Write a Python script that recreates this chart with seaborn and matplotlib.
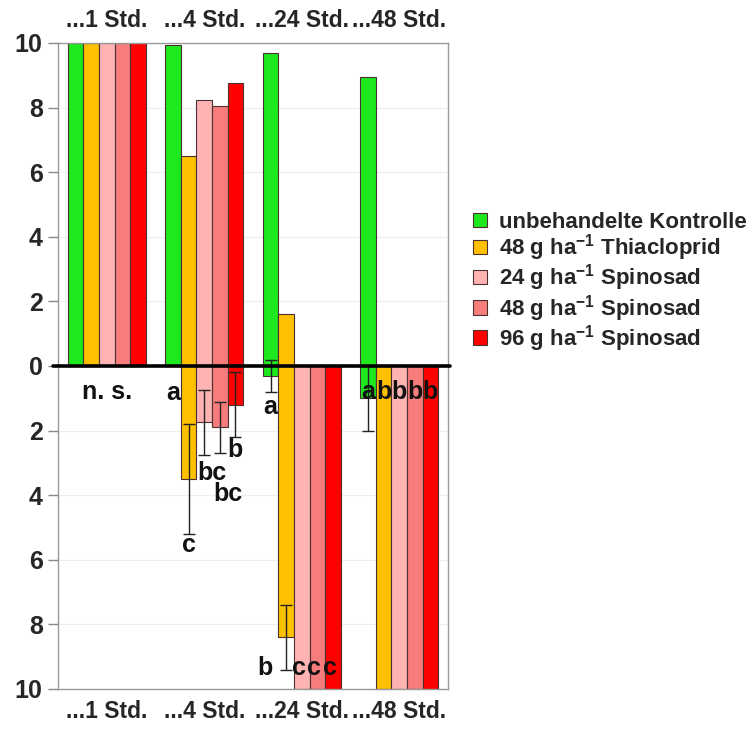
import pandas as pd
import seaborn as sns
import matplotlib
matplotlib.use('Agg')
import matplotlib.pyplot as plt
from matplotlib.patches import Patch

# time points and treatments
times = ['...1 Std.', '...4 Std.', '...24 Std.', '...48 Std.']
treatments = ['unbehandelte Kontrolle',
              '48 g ha$^{-1}$ Thiacloprid',
              '24 g ha$^{-1}$ Spinosad',
              '48 g ha$^{-1}$ Spinosad',
              '96 g ha$^{-1}$ Spinosad']
colors = ['#1ee81e', '#ffc000', '#ffb3b3', '#f77c7c', '#ff0000']

# upper part (per treatment, over the time points)
upper = {
    treatments[0]: [10, 9.95, 9.7, 8.95],
    treatments[1]: [10, 6.5, 1.6, 0],
    treatments[2]: [10, 8.25, 0, 0],
    treatments[3]: [10, 8.05, 0, 0],
    treatments[4]: [10, 8.75, 0, 0],
}
# lower part with standard deviations
lower = {
    treatments[0]: [0, 0, 0.3, 1.0],
    treatments[1]: [0, 3.5, 8.4, 10],
    treatments[2]: [0, 1.75, 10, 10],
    treatments[3]: [0, 1.9, 10, 10],
    treatments[4]: [0, 1.2, 10, 10],
}
lower_sd = {
    treatments[0]: [0, 0, 0.5, 1.0],
    treatments[1]: [0, 1.7, 1.0, 0],
    treatments[2]: [0, 1.0, 0, 0],
    treatments[3]: [0, 0.8, 0, 0],
    treatments[4]: [0, 1.0, 0, 0],
}

# significance letters: (time index, treatment index, text, dx, y)
letters = [
    (0, 2, 'n. s.', 0.0, -0.8),
    (1, 0, 'a', 0.0, -0.85),
    (1, 1, 'c', 0.0, -5.55),
    (1, 2, 'bc', 0.08, -3.3),
    (1, 3, 'bc', 0.08, -3.95),
    (1, 4, 'b', 0.0, -2.6),
    (2, 0, 'a', 0.0, -1.27),
    (2, 1, 'b', -0.22, -9.35),
    (2, 2, 'c', -0.03, -9.35),
    (2, 3, 'c', -0.03, -9.35),
    (2, 4, 'c', -0.03, -9.35),
    (3, 0, 'a', 0.0, -0.8),
    (3, 1, 'b', 0.0, -0.8),
    (3, 2, 'b', 0.0, -0.8),
    (3, 3, 'b', 0.0, -0.8),
    (3, 4, 'b', 0.0, -0.8),
]

rows = []
for t in treatments:
    for i, tm in enumerate(times):
        rows.append({'time': tm, 'treatment': t, 'up': upper[t][i],
                     'down': -lower[t][i], 'sd': lower_sd[t][i]})
df = pd.DataFrame(rows)

sns.set_style('white')
plt.rcParams['font.family'] = ['Liberation Sans', 'DejaVu Sans']
plt.rcParams['font.weight'] = 'bold'
plt.rcParams['mathtext.fontset'] = 'custom'
plt.rcParams['mathtext.bf'] = 'Liberation Sans:bold'
plt.rcParams['mathtext.rm'] = 'Liberation Sans:bold'
plt.rcParams['mathtext.default'] = 'bf'

fig = plt.figure(figsize=(7.49, 7.31), dpi=100)
ax = fig.add_axes([0.0774, 0.0575, 0.5207, 0.8837])

pal = dict(zip(treatments, colors))
sns.barplot(data=df, x='time', y='up', hue='treatment', palette=pal,
            hue_order=treatments, order=times, errorbar=None, width=0.8,
            edgecolor='#4a3030', linewidth=0.8, saturation=1, legend=False,
            ax=ax, zorder=2)
sns.barplot(data=df, x='time', y='down', hue='treatment', palette=pal,
            hue_order=treatments, order=times, errorbar=None, width=0.8,
            edgecolor='#4a3030', linewidth=0.8, saturation=1, legend=False,
            ax=ax, zorder=2)

# bar centres from the lower bars
centres = {}
for k, cont in enumerate(ax.containers[5:10]):
    for i, bar in enumerate(cont):
        centres[(i, k)] = bar.get_x() + bar.get_width() / 2

for k, t in enumerate(treatments):
    for i in range(len(times)):
        if lower_sd[t][i] > 0:
            ax.errorbar(centres[(i, k)], -lower[t][i], yerr=lower_sd[t][i],
                        fmt='none', ecolor='#222222', elinewidth=1,
                        capsize=4.5, capthick=1, zorder=4)

for i, k, txt, dx, y in letters:
    ax.text(centres[(i, k)] + dx, y, txt, ha='center', va='center',
            fontsize=18, fontweight='bold', color='#111111', zorder=5)

ax.axhline(0, color='black', lw=2.6, zorder=6, xmin=-0.012, xmax=1.005,
           clip_on=False)

ax.set_ylim(-10, 10)
ax.set_xlim(-0.5, 3.5)
ax.set_yticks(range(-10, 11, 2))
ax.set_yticklabels([str(abs(v)) for v in range(-10, 11, 2)])
ax.yaxis.grid(True, color='#eeeeee', lw=0.8, zorder=0)
ax.set_axisbelow(True)
ax.tick_params(axis='y', left=True, length=7, color='#888888', width=1,
               labelsize=18, pad=4)
ax.tick_params(axis='x', length=0, labelsize=16.5, labeltop=True, pad=8)
for lab in ax.get_xticklabels() + ax.get_yticklabels():
    lab.set_fontweight('bold')
ax.set_xlabel('')
ax.set_ylabel('')
for s in ax.spines.values():
    s.set_color('#999999')
    s.set_linewidth(1)

handles = [Patch(facecolor=c, edgecolor='#4a3030', lw=0.8) for c in colors]
fig.legend(handles, treatments, loc='upper left',
           bbox_to_anchor=(0.632, 0.71), frameon=False,
           handlelength=0.62, handleheight=0.62, handletextpad=0.55,
           labelspacing=-0.03, borderpad=0, borderaxespad=0,
           prop={'weight': 'bold', 'size': 16})

fig.savefig('out.png', dpi=100, facecolor='white')
